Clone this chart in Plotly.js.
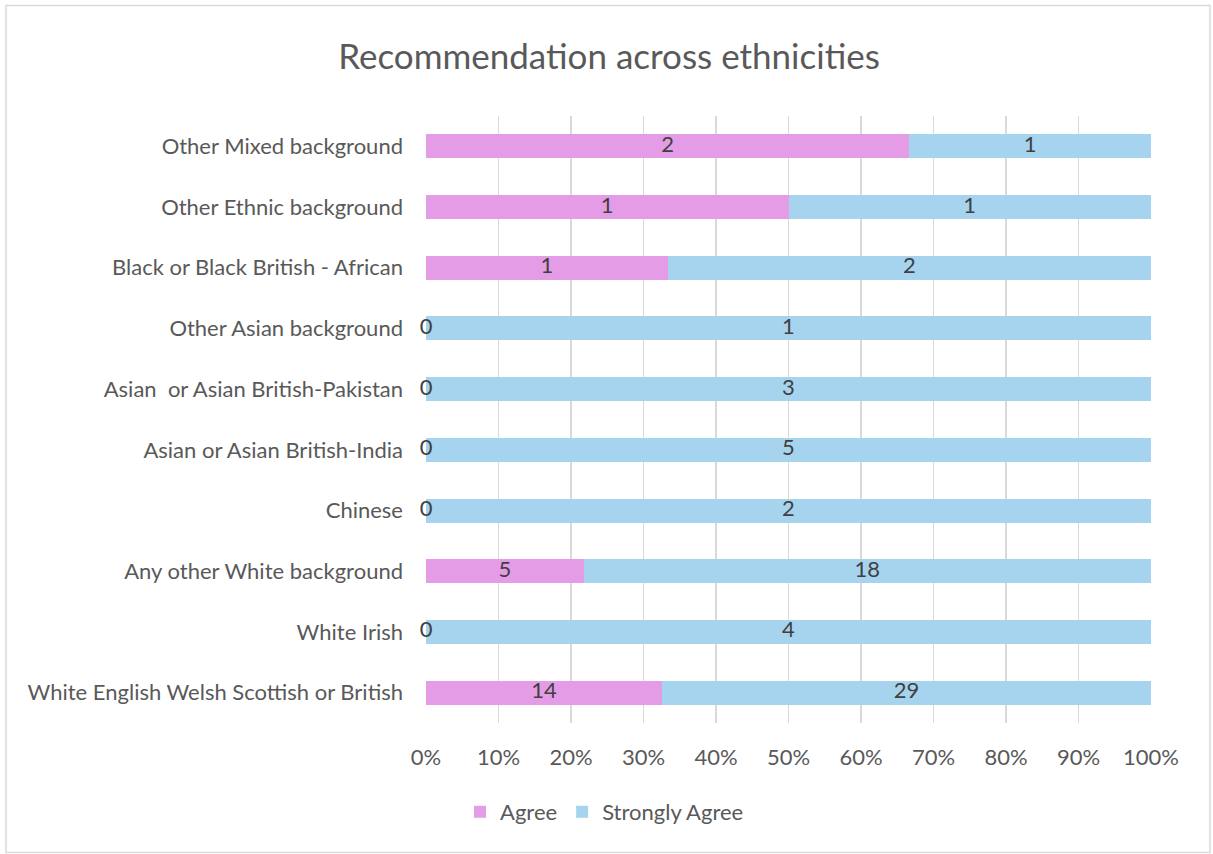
<!DOCTYPE html>
<html>
<head>
<meta charset="utf-8">
<script src="https://cdn.plot.ly/plotly-3.0.1.min.js"></script>
<style>
html,body{margin:0;padding:0;background:#fff;}
#chart{width:1213px;height:854px;}
</style>
</head>
<body>
<div id="chart"></div>
<script>
const categories = [
  "White English Welsh Scottish or British",
  "White Irish",
  "Any other White background",
  "Chinese",
  "Asian or Asian British-India",
  "Asian  or Asian British-Pakistan",
  "Other Asian background",
  "Black or Black British - African",
  "Other Ethnic background",
  "Other Mixed background"
];
const agree =         [14, 0, 5, 0, 0, 0, 0, 1, 1, 2];
const stronglyAgree = [29, 4, 18, 2, 5, 3, 1, 2, 1, 1];
const tickVals = [0, 0.1, 0.2, 0.3, 0.4, 0.5, 0.6, 0.7, 0.8, 0.9, 1];
const tickText = ["0%","10%","20%","30%","40%","50%","60%","70%","80%","90%","100%"];

const totals = agree.map((a, i) => a + stronglyAgree[i]);
const agreeFrac = agree.map((a, i) => a / totals[i]);
const saFrac = stronglyAgree.map((s, i) => s / totals[i]);

const FONT = "Lato, 'Open Sans', sans-serif";
const FS = 22;
const labelFont = {family: FONT, size: FS, color: "#404040"};

const traces = [
  {type: "bar", orientation: "h", name: "Agree", y: categories, x: agreeFrac,
   marker: {color: "#E59CE6"}, hoverinfo: "skip"},
  {type: "bar", orientation: "h", name: "Strongly Agree", y: categories, x: saFrac,
   marker: {color: "#A6D4EE"}, hoverinfo: "skip"},
  {type: "scatter", mode: "text", showlegend: false, hoverinfo: "skip",
   y: categories, x: agreeFrac.map(f => f / 2), text: agree.map(String),
   textfont: labelFont, cliponaxis: false},
  {type: "scatter", mode: "text", showlegend: false, hoverinfo: "skip",
   y: categories, x: agreeFrac.map((f, i) => f + saFrac[i] / 2), text: stronglyAgree.map(String),
   textfont: labelFont, cliponaxis: false}
];

const W = 1213, H = 854;
const L = 426, R = 62, T = 115.6, B = 130.6;
const pw = W - L - R, ph = H - T - B;
function px(x) { return (x - L) / pw; }
function py(y) { return (H - B - y) / ph; }

const layout = {
  width: W, height: H,
  margin: {l: L, r: R, t: T, b: B, pad: 0},
  paper_bgcolor: "#fff", plot_bgcolor: "#fff",
  barmode: "stack",
  bargap: 0.605,
  font: {family: FONT, color: "#595959"},
  title: {text: "Recommendation across ethnicities", font: {family: FONT, size: 35, color: "#595959"},
          x: 609 / W, xref: "container", xanchor: "center", y: 1 - 57 / H, yref: "container", yanchor: "middle"},
  xaxis: {range: [0, 1], tickvals: tickVals, ticktext: tickText, showgrid: true,
          gridcolor: "#d9d9d9", gridwidth: 1.5, zeroline: false, showline: false,
          tickfont: {family: FONT, size: FS, color: "#595959"}, ticks: "",
          ticklabelstandoff: 19, fixedrange: true},
  yaxis: {type: "category", categoryorder: "array", categoryarray: categories,
          showgrid: false, zeroline: false, showline: false, ticks: "",
          tickfont: {family: FONT, size: FS, color: "#595959"},
          ticklabelstandoff: 22, fixedrange: true},
  legend: {orientation: "h", x: 460 / W, xref: "container", xanchor: "left",
           y: 1 - 812 / H, yref: "container", yanchor: "middle",
           font: {family: FONT, size: FS, color: "#595959"}, traceorder: "normal"},
  showlegend: true,
  shapes: [{type: "rect", xref: "paper", yref: "paper",
            x0: px(6), x1: px(1210), y0: py(853), y1: py(5),
            line: {color: "#d9d9d9", width: 1.5}, fillcolor: "rgba(0,0,0,0)", layer: "below"}]
};

Plotly.newPlot("chart", traces, layout, {displayModeBar: false, staticPlot: true});
</script>
</body>
</html>
